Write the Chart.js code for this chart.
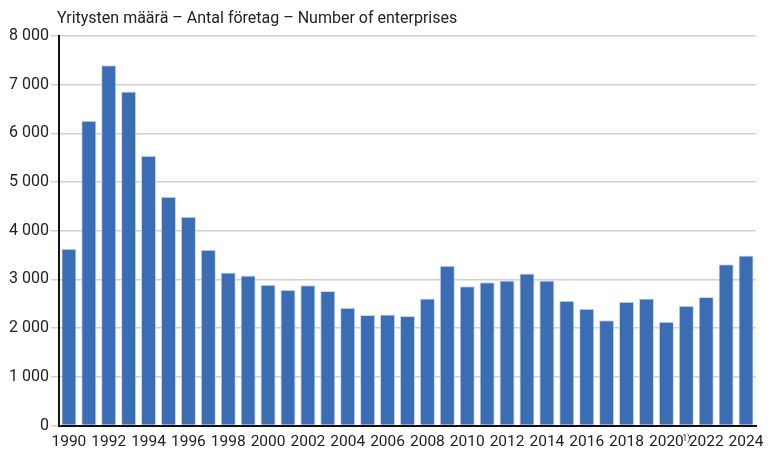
<!DOCTYPE html>
<html>
<head>
<meta charset="utf-8">
<script src="https://cdn.jsdelivr.net/npm/chart.js@4.4.1/dist/chart.umd.min.js"></script>
<style>
  html, body { margin: 0; padding: 0; background: #fff; }
  #wrap { width: 773px; height: 451px; }
</style>
</head>
<body>
<div id="wrap"><canvas id="chart"></canvas></div>
<script>
// --- Datos ---
const years = ['1990','1991','1992','1993','1994','1995','1996','1997','1998','1999',
  '2000','2001','2002','2003','2004','2005','2006','2007','2008','2009',
  '2010','2011','2012','2013','2014','2015','2016','2017','2018','2019',
  '2020','2021','2022','2023','2024'];
const enterprises = [3630, 6260, 7400, 6860, 5540, 4700, 4290, 3610, 3140, 3080,
  2890, 2790, 2880, 2760, 2420, 2270, 2280, 2250, 2610, 3280,
  2860, 2940, 2980, 3120, 2980, 2560, 2400, 2160, 2540, 2610,
  2130, 2460, 2640, 3310, 3490];
const footnoteYear = '2021';
const footnoteMark = '1)';
const titleText = 'Yritysten määrä – Antal företag – Number of enterprises';

const fontFamily = 'Roboto, "Liberation Sans", sans-serif';

// título dibujado sobre el área del gráfico
const titlePlugin = {
  id: 'leftTitle',
  afterDraw(chart) {
    const ctx = chart.ctx;
    ctx.save();
    ctx.font = '16px ' + fontFamily;
    ctx.fillStyle = '#222';
    ctx.textBaseline = 'middle';
    ctx.textAlign = 'left';
    ctx.fillText(titleText, chart.chartArea.left - 2, 19);
    ctx.restore();
  }
};

new Chart(document.getElementById('chart'), {
  type: 'bar',
  data: {
    labels: years,
    datasets: [{
      data: enterprises,
      backgroundColor: '#3b6db4',
      borderColor: 'rgba(200,215,235,0.9)',
      borderWidth: 1,
      barPercentage: 0.76,
      categoryPercentage: 1.0
    }]
  },
  options: {
    responsive: true,
    maintainAspectRatio: false,
    animation: false,
    layout: { padding: { top: 36, right: 17, left: 7, bottom: 0 } },
    plugins: { legend: { display: false }, tooltip: { enabled: false } },
    scales: {
      x: {
        grid: { display: false },
        border: { color: '#111', width: 2 },
        ticks: {
          autoSkip: false,
          maxRotation: 0,
          padding: 1,
          color: '#222',
          font: (c) => ({ family: fontFamily, size: years[c.index] === footnoteYear ? 9 : 15.5, lineHeight: 1 }),
          callback: (v, i) => {
            const y = years[i];
            if (y === footnoteYear) return footnoteMark;
            return (parseInt(y) % 2 === 0) ? y : '';
          }
        }
      },
      y: {
        min: 0, max: 8000,
        grid: { color: '#d0d0d0', lineWidth: 1.5 },
        border: { color: '#111', width: 2 },
        ticks: {
          stepSize: 1000,
          padding: 2,
          color: '#222',
          font: { family: fontFamily, size: 16 },
          callback: (v) => String(v).replace(/\B(?=(\d{3})+(?!\d))/g, ' ')
        }
      }
    }
  },
  plugins: [titlePlugin]
});
</script>
</body>
</html>
